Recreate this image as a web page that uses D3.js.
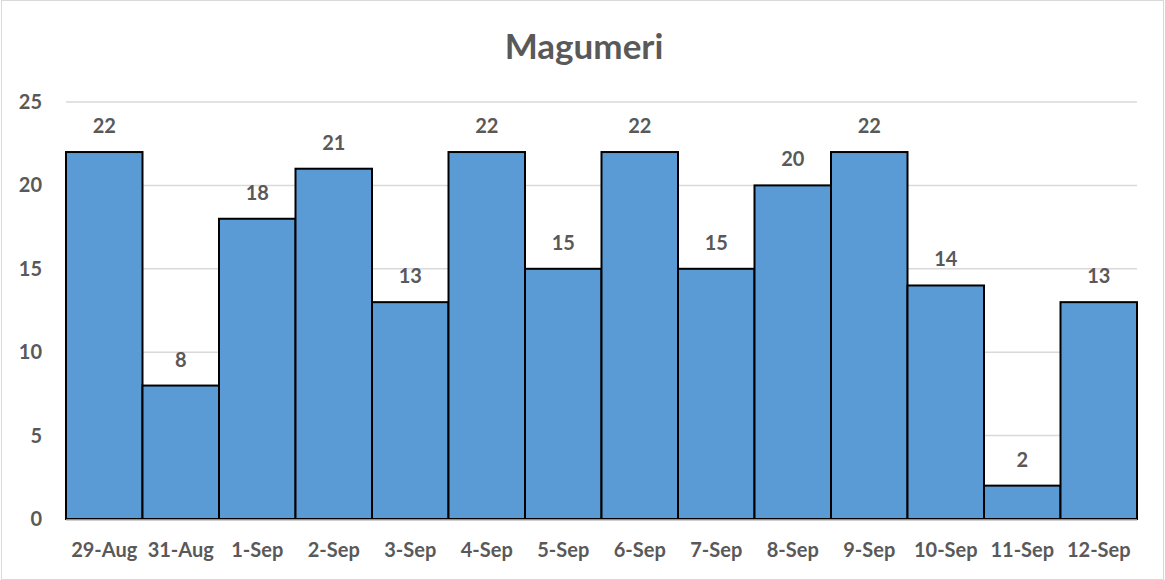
<!DOCTYPE html>
<html>
<head>
<meta charset="utf-8">
<script src="https://cdn.jsdelivr.net/npm/d3@7"></script>
<style>
  body { margin: 0; background: #fff; }
  text { font-family: Lato, "Open Sans", sans-serif; font-weight: bold; fill: #595959; }
</style>
</head>
<body>
<div id="chart"></div>
<script>
// data
var dates = ["29-Aug","31-Aug","1-Sep","2-Sep","3-Sep","4-Sep","5-Sep","6-Sep","7-Sep","8-Sep","9-Sep","10-Sep","11-Sep","12-Sep"]
var counts = [22, 8, 18, 21, 13, 22, 15, 22, 15, 20, 22, 14, 2, 13]
var yTicks = [0, 5, 10, 15, 20, 25]

var width = 1165, height = 580
var margin = {top: 102, right: 28, bottom: 61, left: 66}

var svg = d3.select("#chart")
  .append("svg")
    .attr("width", width)
    .attr("height", height)

// chart border
svg.append("rect")
  .attr("x", 1.5).attr("y", 0.5)
  .attr("width", width - 3).attr("height", height - 1)
  .attr("fill", "none")
  .attr("stroke", "#d9d9d9")

var x = d3.scaleBand()
  .domain(dates)
  .range([margin.left, width - margin.right])
  .padding(0)

var y = d3.scaleLinear()
  .domain([0, 25])
  .range([height - margin.bottom, margin.top])

// title
svg.append("text")
  .attr("x", 584)
  .attr("y", 59)
  .attr("text-anchor", "middle")
  .style("font-size", "35px")
  .text("Magumeri")

// gridlines
svg.append("g")
  .selectAll("line")
  .data(yTicks.filter(d => d > 0))
  .join("line")
    .attr("x1", margin.left)
    .attr("x2", width - margin.right)
    .attr("y1", d => y(d))
    .attr("y2", d => y(d))
    .attr("stroke", "#d9d9d9")
    .attr("stroke-width", 1.5)

// y axis labels
var yAxis = d3.axisLeft(y).tickValues(yTicks).tickSize(0).tickPadding(24)
svg.append("g")
  .attr("transform", "translate(" + margin.left + ",0)")
  .call(yAxis)
  .call(g => g.select(".domain").remove())
  .selectAll("text")
    .style("font-size", "20px")
    .attr("fill", "#595959")

// bars
svg.append("g")
  .selectAll("rect")
  .data(counts)
  .join("rect")
    .attr("x", (d, i) => x(dates[i]))
    .attr("y", d => y(d))
    .attr("width", x.bandwidth())
    .attr("height", d => y(0) - y(d))
    .attr("fill", "#5b9bd5")
    .attr("stroke", "#000")
    .attr("stroke-width", 2)

// x axis baseline
svg.append("line")
  .attr("x1", margin.left)
  .attr("x2", width - margin.right)
  .attr("y1", y(0) + 1)
  .attr("y2", y(0) + 1)
  .attr("stroke", "#bfbfbf")
  .attr("stroke-width", 1.5)

// x labels
var xAxis = d3.axisBottom(x).tickSize(0)
svg.append("g")
  .attr("transform", "translate(0," + y(0) + ")")
  .call(xAxis)
  .call(g => g.select(".domain").remove())
  .selectAll("text")
    .attr("y", 38)
    .attr("dy", null)
    .style("font-size", "20px")
    .attr("fill", "#595959")

// value labels
svg.append("g")
  .selectAll("text")
  .data(counts)
  .join("text")
    .attr("x", (d, i) => x(dates[i]) + x.bandwidth() / 2)
    .attr("y", d => y(d) - 19)
    .attr("text-anchor", "middle")
    .style("font-size", "20px")
    .text(d => d)
</script>
</body>
</html>
